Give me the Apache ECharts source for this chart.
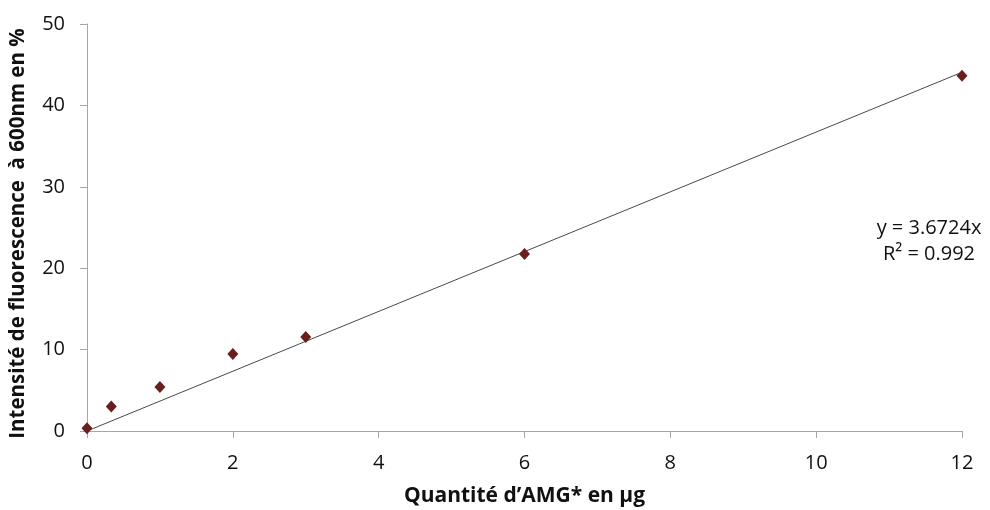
<!DOCTYPE html>
<html>
<head>
<meta charset="utf-8">
<script src="https://cdn.jsdelivr.net/npm/echarts@6/dist/echarts.min.js"></script>
<style>html,body{margin:0;padding:0;background:#fff}#c{width:990px;height:510px}</style>
</head>
<body>
<div id="c"></div>
<script>
const xValues = [0, 0.333, 1, 2, 3, 6, 12];
const yValues = [0.35, 3.0, 5.4, 9.45, 11.55, 21.75, 43.65];
const slope = 3.6724;
const trendX = [0, 12];
const equationLines = ['y = 3.6724x', 'R² = 0.992'];
const xTitle = 'Quantité d’AMG* en µg';
const yTitle = 'Intensité de fluorescence  à 600nm en %';

const font = '"Open Sans", "DejaVu Sans", sans-serif';
const chart = echarts.init(document.getElementById('c'));
const axisColor = '#a6a6a6';
chart.setOption({
  animation: false,
  grid: {left: 87, right: 28, top: 24, bottom: 79, outerBoundsMode: 'none', containLabel: false},
  xAxis: {
    type: 'value', min: 0, max: 12, interval: 2,
    name: xTitle, nameLocation: 'middle', nameGap: 55,
    nameTextStyle: {fontFamily: font, fontWeight: 'bold', fontSize: 21, color: '#111'},
    axisLine: {show: true, lineStyle: {color: axisColor}},
    axisTick: {show: true, inside: false, length: 7, lineStyle: {color: axisColor}},
    axisLabel: {fontFamily: font, fontSize: 20, color: '#111', margin: 22},
    splitLine: {show: false}
  },
  yAxis: {
    type: 'value', min: 0, max: 50, interval: 10,
    name: yTitle, nameLocation: 'middle', nameGap: 58, nameRotate: 90,
    nameTextStyle: {fontFamily: font, fontWeight: 'bold', fontSize: 20.5, color: '#111', padding: [0, 12, 0, 0]},
    axisLine: {show: true, lineStyle: {color: axisColor}},
    axisTick: {show: true, inside: false, length: 7, lineStyle: {color: axisColor}},
    axisLabel: {fontFamily: font, fontSize: 20, color: '#111', margin: 22},
    splitLine: {show: false}
  },
  series: [
    {
      type: 'line',
      data: trendX.map(x => [x, slope * x]),
      symbol: 'none',
      lineStyle: {color: '#4a4a4a', width: 1},
      z: 1
    },
    {
      type: 'scatter',
      data: xValues.map((x, i) => [x, yValues[i]]),
      symbol: 'diamond',
      symbolSize: [11, 12],
      itemStyle: {color: '#6a1f1f', opacity: 1},
      z: 2
    }
  ],
  graphic: equationLines.map((t, i) => ({
    type: 'text',
    x: 929, y: 228 + i * 26,
    style: {
      text: t,
      font: '20px ' + font,
      fill: '#111',
      align: 'center',
      verticalAlign: 'middle'
    }
  }))
});
</script>
</body>
</html>
